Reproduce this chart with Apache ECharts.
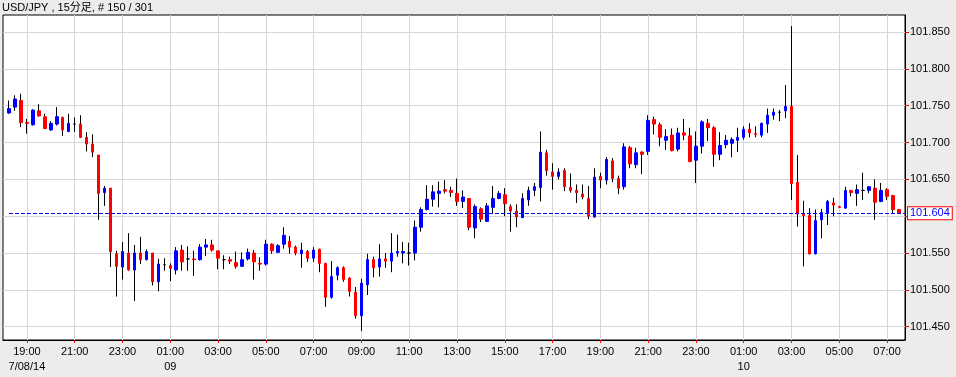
<!DOCTYPE html>
<html>
<head>
<meta charset="utf-8">
<script src="https://cdn.jsdelivr.net/npm/echarts@6/dist/echarts.min.js"></script>
<style>
	html,body{margin:0;padding:0;background:#ececec;}
	#usdjpy-echarts{width:956px;height:377px;}
</style>
</head>
<body>
<div id="usdjpy-echarts"></div>
<script>
// 15分足 USD/JPY, 150本 (7/08 18:15 - 7/10 07:30)
var opens = [101.740,101.748,101.757,101.727,101.724,101.743,101.735,101.717,101.725,101.734,
	101.715,101.725,101.725,101.707,101.698,101.683,101.632,101.638,101.549,101.531,
	101.550,101.527,101.550,101.541,101.550,101.511,101.534,101.533,101.527,101.554,
	101.542,101.542,101.541,101.558,101.561,101.553,101.541,101.541,101.537,101.532,
	101.542,101.550,101.536,101.535,101.562,101.551,101.562,101.566,101.558,101.549,
	101.552,101.543,101.555,101.536,101.490,101.520,101.530,101.516,101.497,101.465,
	101.507,101.541,101.531,101.542,101.539,101.550,101.550,101.550,101.550,101.585,
	101.609,101.623,101.631,101.636,101.635,101.631,101.620,101.624,101.584,101.610,
	101.593,101.612,101.624,101.629,101.613,101.607,101.598,101.622,101.635,101.639,
	101.686,101.660,101.654,101.662,101.639,101.635,101.630,101.624,101.599,101.654,
	101.649,101.675,101.651,101.640,101.693,101.670,101.687,101.688,101.731,101.724,
	101.703,101.710,101.691,101.713,101.709,101.676,101.695,101.726,101.720,101.684,
	101.697,101.699,101.703,101.707,101.718,101.712,101.710,101.725,101.737,101.741,
	101.743,101.749,101.646,101.603,101.601,101.549,101.595,101.604,101.618,101.613,
	101.611,101.635,101.631,101.635,101.635,101.638,101.620,101.636,101.628,101.609];
var closes = [101.746,101.759,101.727,101.726,101.744,101.736,101.719,101.726,101.735,101.717,
	101.726,101.725,101.707,101.698,101.687,101.631,101.638,101.552,101.532,101.552,
	101.527,101.550,101.541,101.552,101.511,101.535,101.534,101.529,101.553,101.538,
	101.542,101.541,101.558,101.561,101.554,101.543,101.541,101.539,101.532,101.541,
	101.551,101.538,101.535,101.562,101.553,101.560,101.574,101.558,101.550,101.554,
	101.543,101.554,101.536,101.490,101.518,101.530,101.514,101.498,101.465,101.509,
	101.541,101.530,101.542,101.539,101.550,101.552,101.552,101.550,101.585,101.609,
	101.623,101.633,101.634,101.634,101.632,101.620,101.626,101.585,101.613,101.596,
	101.614,101.624,101.631,101.617,101.607,101.599,101.624,101.635,101.640,101.687,
	101.662,101.654,101.660,101.640,101.635,101.632,101.626,101.600,101.653,101.649,
	101.677,101.651,101.638,101.694,101.671,101.686,101.684,101.730,101.725,101.707,
	101.708,101.689,101.713,101.710,101.674,101.695,101.728,101.720,101.684,101.696,
	101.703,101.704,101.707,101.718,101.713,101.711,101.726,101.737,101.741,101.741,
	101.749,101.644,101.603,101.601,101.549,101.594,101.605,101.620,101.615,101.612,
	101.635,101.632,101.636,101.635,101.640,101.619,101.635,101.627,101.609,101.604];
var lows = [101.739,101.743,101.721,101.712,101.723,101.735,101.718,101.716,101.723,101.709,
	101.714,101.714,101.706,101.688,101.680,101.595,101.614,101.531,101.491,101.514,
	101.526,101.485,101.535,101.540,101.506,101.498,101.526,101.512,101.521,101.526,
	101.526,101.519,101.540,101.546,101.552,101.528,101.528,101.535,101.529,101.531,
	101.540,101.514,101.526,101.533,101.549,101.550,101.556,101.549,101.547,101.530,
	101.538,101.538,101.524,101.477,101.488,101.513,101.511,101.491,101.461,101.444,
	101.493,101.517,101.518,101.530,101.524,101.545,101.536,101.533,101.540,101.579,
	101.608,101.613,101.612,101.631,101.626,101.614,101.611,101.581,101.570,101.592,
	101.592,101.604,101.623,101.600,101.579,101.585,101.598,101.614,101.627,101.620,
	101.655,101.636,101.650,101.634,101.632,101.618,101.623,101.596,101.598,101.638,
	101.643,101.646,101.630,101.636,101.665,101.665,101.657,101.683,101.711,101.695,
	101.690,101.688,101.688,101.703,101.674,101.645,101.685,101.702,101.667,101.676,
	101.692,101.680,101.687,101.704,101.707,101.707,101.707,101.713,101.731,101.729,
	101.733,101.622,101.586,101.532,101.548,101.548,101.570,101.588,101.600,101.611,
	101.610,101.627,101.614,101.622,101.631,101.595,101.619,101.622,101.604,101.604];
var highs = [101.757,101.764,101.766,101.732,101.745,101.752,101.739,101.729,101.748,101.735,
	101.739,101.734,101.737,101.714,101.711,101.683,101.641,101.638,101.553,101.565,
	101.577,101.561,101.572,101.555,101.550,101.542,101.543,101.536,101.558,101.561,
	101.559,101.553,101.562,101.569,101.568,101.553,101.547,101.545,101.552,101.551,
	101.556,101.554,101.544,101.568,101.563,101.562,101.585,101.573,101.560,101.564,
	101.554,101.558,101.556,101.536,101.539,101.532,101.532,101.517,101.504,101.515,
	101.549,101.545,101.562,101.550,101.577,101.575,101.565,101.564,101.594,101.612,
	101.642,101.642,101.647,101.649,101.640,101.651,101.635,101.624,101.616,101.612,
	101.618,101.641,101.634,101.638,101.616,101.616,101.631,101.640,101.645,101.715,
	101.690,101.672,101.665,101.665,101.658,101.643,101.643,101.641,101.665,101.659,
	101.680,101.679,101.655,101.699,101.695,101.693,101.688,101.737,101.735,101.727,
	101.718,101.719,101.720,101.732,101.720,101.715,101.730,101.732,101.722,101.714,
	101.710,101.707,101.720,101.722,101.726,101.722,101.727,101.746,101.746,101.744,
	101.778,101.858,101.683,101.621,101.611,101.609,101.610,101.622,101.625,101.614,
	101.640,101.635,101.643,101.659,101.640,101.650,101.645,101.638,101.629,101.610];
var yTicks = [101.450,101.500,101.550,101.600,101.650,101.700,101.750,101.800,101.850];
var lastPrice = 101.604;
var startTime = Date.UTC(2014,6,8,18,15);

function pad2(n){
	return (n < 10 ? '0' : '') + n;
}

function usdjpyEcharts(idName){
	var chart = echarts.init(document.getElementById(idName));

	// 両端に空のカテゴリを1本ずつ入れる
	var times = [''];
	var wicks = ['-'];
	var bodies = ['-'];
	for(var i = 0; i < opens.length; i++){
		var d = new Date(startTime + i*15*60000);
		times.push(d.getUTCFullYear()+'-'+pad2(d.getUTCMonth()+1)+'-'+pad2(d.getUTCDate())+' '+pad2(d.getUTCHours())+':'+pad2(d.getUTCMinutes()));
		var o = opens[i], c = closes[i];
		wicks.push([o, c, lows[i], highs[i]]);
		if(o === c){
			bodies.push({value:[o, c, o, c], itemStyle:{borderColor:'#000', borderColor0:'#000', borderColorDoji:'#000'}});
		}else{
			bodies.push([o, c, Math.min(o, c), Math.max(o, c)]);
		}
	}
	times.push('');
	wicks.push('-');
	bodies.push('-');

	var isLabelled = function(idx, val){
		if(!val) return false;
		return val.slice(14) === '00' && (+val.slice(11, 13)) % 2 === 1;
	};
	var firstShown = true;

	var option = {
		backgroundColor:'#ececec',
		animation:false,
		textStyle:{fontFamily:'"Liberation Sans", Arial, "Noto Sans CJK JP", sans-serif'},
		title:{
			text:'USD/JPY , 15分足, # 150 / 301',
			left:2,
			top:1,
			padding:0,
			textStyle:{fontSize:11, fontWeight:'normal', color:'#000', lineHeight:13}
		},
		grid:{
			left:3, top:15, right:51, bottom:37,
			show:true,
			backgroundColor:'#fff',
			borderColor:'#000',
			borderWidth:1
		},
		xAxis:{
			type:'category',
			data:times,
			boundaryGap:false,
			axisLine:{lineStyle:{color:'#000'}},
			axisTick:{show:true, interval:isLabelled, length:3, lineStyle:{color:'#ff0000'}},
			axisLabel:{
				interval:isLabelled,
				color:'#000',
				fontSize:11,
				lineHeight:15,
				margin:4,
				formatter:function(val){
					var hm = val.slice(11);
					var extra = '';
					if(firstShown){
						extra = '\n' + (+val.slice(5, 7)) + '/' + val.slice(8, 10) + '/' + val.slice(2, 4);
						firstShown = false;
					}else if(hm === '01:00'){
						extra = '\n' + val.slice(8, 10);
					}
					return hm + extra;
				}
			},
			splitLine:{show:true, interval:isLabelled, lineStyle:{color:'#d6d6d6'}}
		},
		yAxis:{
			type:'value',
			position:'right',
			scale:true,
			min:101.432,
			max:101.873,
			axisLine:{show:true, lineStyle:{color:'#000'}},
			axisTick:{show:true, length:4, customValues:yTicks, lineStyle:{color:'#ff0000'}},
			axisLabel:{
				customValues:yTicks,
				color:'#000',
				fontSize:11,
				margin:5,
				formatter:function(v){ return v.toFixed(3); }
			},
			splitLine:{show:true, lineStyle:{color:'#d6d6d6'}}
		},
		series:[
			{
				name:'wick',
				type:'candlestick',
				data:wicks,
				barWidth:1,
				itemStyle:{
					color:'#000', color0:'#000',
					borderColor:'#000', borderColor0:'#000', borderColorDoji:'#000',
					borderWidth:1
				}
			},
			{
				name:'body',
				type:'candlestick',
				data:bodies,
				barWidth:3,
				itemStyle:{
					color:'#0000ff', color0:'#ff0000',
					borderColor:'#0000ff', borderColor0:'#ff0000', borderColorDoji:'#000',
					borderWidth:1
				},
				markLine:{
					silent:true,
					symbol:['none','none'],
					animation:false,
					lineStyle:{color:'#0000ff', type:[4,2], width:1},
					label:{
						show:true,
						position:'end',
						distance:3,
						formatter:lastPrice.toFixed(3),
						color:'#0000ff',
						fontSize:11,
						backgroundColor:'#fff',
						borderColor:'#ff0000',
						borderWidth:1,
						padding:[1,2,0,2]
					},
					data:[[{xAxis:1, yAxis:lastPrice}, {xAxis:times.length-1, yAxis:lastPrice}]]
				}
			}
		]
	};

	chart.setOption(option);
}

usdjpyEcharts('usdjpy-echarts');
</script>
</body>
</html>
